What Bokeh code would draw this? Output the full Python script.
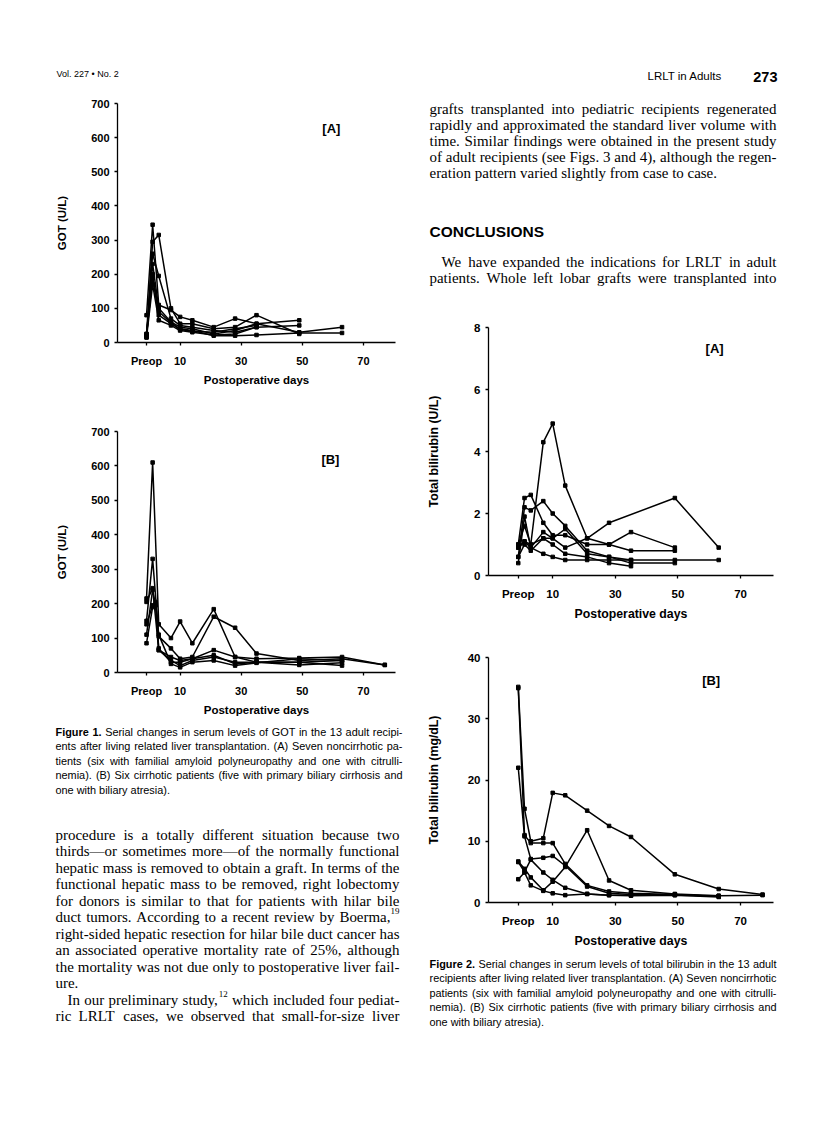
from bokeh.plotting import figure
from bokeh.layouts import row, column
from bokeh.models import Range1d, FixedTicker, ColumnDataSource, Label
from bokeh.embed import file_html
from bokeh.resources import INLINE
from bokeh.core.properties import value

# ------------------------------------------------------------------ data
X_TICKS = [-1, 10, 30, 50, 70]          # -1 = preoperative value
X_TICK_LABELS = {-1: "Preop"}

# Figure 1A - GOT (U/L), seven noncirrhotic patients
got_a_days = [-1, 1, 3, 7, 10, 14, 21, 28, 35, 49, 63]
got_a1 = [80, 345, 110, 95, 75, 65, 45, 70, 55, 65, None]
got_a2 = [25, 295, 315, 100, 55, 55, 40, 45, 80, 25, None]
got_a3 = [15, 260, 195, 70, 50, 45, 35, 30, 45, 50, None]
got_a4 = [20, 230, 100, 60, 45, 40, 25, 35, 55, 30, 45]
got_a5 = [25, 190, 80, 55, 40, 35, 20, 20, 22, 28, 28]
got_a6 = [15, 170, 65, 50, 35, 30, 22, 25, 45, None, None]
got_a7 = [20, 200, 90, 58, 38, 33, 30, 40, 50, None, None]

# Figure 1B - GOT (U/L), six cirrhotic patients
got_b_days = [-1, 1, 2, 3, 7, 10, 14, 21, 28, 35, 49, 63, 77]
got_b1 = [215, 610, None, 140, 100, 148, 85, 184, 45, 40, 42, 45, 22]
got_b2 = [150, 330, None, 105, 70, 40, 45, 162, 130, 55, 35, 40, 22]
got_b3 = [205, 245, None, 65, 45, 35, 40, 65, 45, 30, 30, 35, None]
got_b4 = [140, 195, 205, 65, 35, 20, 35, 45, 30, 30, 22, 28, None]
got_b5 = [85, 190, 200, 110, 25, 15, 30, 35, 20, 28, 40, 35, None]
got_b6 = [110, 240, 195, 70, 30, 30, 40, 50, 25, 30, 30, 20, None]

# Figure 2A - total bilirubin, seven noncirrhotic patients
bil_a_days = [-1, 1, 3, 7, 10, 14, 21, 28, 35, 49, 63]
bil_a1 = [0.9, 1.1, 1.0, 4.3, 4.9, 2.9, 1.2, 1.7, None, 2.5, 0.9]
bil_a2 = [1.0, 2.5, 2.6, 1.7, 1.3, 1.3, 1.0, 1.0, 1.4, 0.9, None]
bil_a3 = [0.6, 2.2, 2.1, 2.4, 2.0, 1.6, 0.8, 0.6, 0.5, None, None]
bil_a4 = [0.4, 1.9, 0.9, 1.4, 1.2, 0.9, 1.2, 1.0, 0.8, 0.8, None]
bil_a5 = [1.0, 1.6, 1.0, 1.2, 1.2, 1.5, 0.7, 0.6, 0.4, 0.4, None]
bil_a6 = [0.9, 1.1, 0.9, 0.7, 0.6, 0.5, 0.5, 0.5, 0.5, 0.5, 0.5]
bil_a7 = [0.6, 1.0, 0.8, 1.2, 1.0, 0.7, 0.6, 0.4, 0.3, None, None]

# Figure 2B - total bilirubin (mg/dL), six cirrhotic patients
bil_b_days = [-1, 1, 3, 7, 10, 14, 21, 28, 35, 49, 63, 77]
bil_b1 = [35.2, 15.3, 10.0, 10.5, 17.9, 17.5, 15.0, 12.5, 10.7, 4.6, 2.2, 1.3]
bil_b2 = [35.0, 11.0, 9.7, 9.7, 9.7, 6.3, 2.8, 1.8, 1.5, 1.3, 1.0, None]
bil_b3 = [22.0, 10.8, 7.1, 7.3, 7.6, 6.0, 2.6, 1.5, 1.3, 1.2, 1.1, 1.2]
bil_b4 = [6.7, 5.5, 4.1, 2.0, 3.4, 5.8, 11.8, 3.6, 2.0, 1.4, 1.1, None]
bil_b5 = [3.8, 4.9, 2.8, 1.9, 1.5, 1.2, 1.4, 1.2, 1.1, 1.2, 0.9, None]
bil_b6 = [6.6, 5.0, 7.0, 4.9, 3.7, 2.4, 1.4, 1.2, 1.2, 1.3, 1.0, None]

GOT_TICKS = [0, 100, 200, 300, 400, 500, 600, 700]
BIL_A_TICKS = [0, 2, 4, 6, 8]
BIL_B_TICKS = [0, 10, 20, 30, 40]

# ------------------------------------------------------------------ page text
HEAD_LEFT = "Vol. 227 \u2022 No. 2"
HEAD_RIGHT = "LRLT in Adults"
PAGE_NO = "273"
CONCLUSIONS = "CONCLUSIONS"

LEFT_BODY = [
    ("procedure is a totally different situation because two", True, False),
    ("thirds\u2014or sometimes more\u2014of the normally functional", True, False),
    ("hepatic mass is removed to obtain a graft. In terms of the", True, False),
    ("functional hepatic mass to be removed, right lobectomy", True, False),
    ("for donors is similar to that for patients with hilar bile", True, False),
    ("duct tumors. According to a recent review by Boerma,^19", True, False),
    ("right-sided hepatic resection for hilar bile duct cancer has", True, False),
    ("an associated operative mortality rate of 25%, although", True, False),
    ("the mortality was not due only to postoperative liver fail-", True, False),
    ("ure.", False, False),
    ("In our preliminary study,^12 which included four pediat-", True, True),
    ("ric LRLT cases, we observed that small-for-size liver", True, False),
]
RIGHT_BODY1 = [
    ("grafts transplanted into pediatric recipients regenerated", True, False),
    ("rapidly and approximated the standard liver volume with", True, False),
    ("time. Similar findings were obtained in the present study", True, False),
    ("of adult recipients (see Figs. 3 and 4), although the regen-", True, False),
    ("eration pattern varied slightly from case to case.", False, False),
]
RIGHT_BODY2 = [
    ("We have expanded the indications for LRLT in adult", True, True),
    ("patients. Whole left lobar grafts were transplanted into", True, False),
]
CAP1 = [
    ("*Figure *1. Serial changes in serum levels of GOT in the 13 adult recipi-", True, False),
    ("ents after living related liver transplantation. (A) Seven noncirrhotic pa-", True, False),
    ("tients (six with familial amyloid polyneuropathy and one with citrulli-", True, False),
    ("nemia). (B) Six cirrhotic patients (five with primary biliary cirrhosis and", True, False),
    ("one with biliary atresia).", False, False),
]
CAP2 = [
    ("*Figure *2. Serial changes in serum levels of total bilirubin in the 13 adult", True, False),
    ("recipients after living related liver transplantation. (A) Seven noncirrhotic", True, False),
    ("patients (six with familial amyloid polyneuropathy and one with citrulli-", True, False),
    ("nemia). (B) Six cirrhotic patients (five with primary biliary cirrhosis and", True, False),
    ("one with biliary atresia).", False, False),
]

SANS = "Liberation Sans"
SERIF = "Liberation Serif"

# ------------------------------------------------------------------ font metrics (1/1000 em)
def _tbl(pairs, default):
    d = {}
    for chars, w in pairs:
        for c in chars:
            d[c] = w
    d["_"] = default
    return d

TIMES = _tbl([(" ", 250), ("!", 333), ("%", 833), ("()", 333), (",.", 250), ("-", 333),
              ("/:;", 278), ("0123456789", 500), ("\u2014", 1000),
              ("A", 722), ("B", 667), ("C", 667), ("D", 722), ("E", 611), ("F", 556),
              ("G", 722), ("H", 722), ("I", 333), ("J", 389), ("K", 722), ("L", 611),
              ("M", 889), ("N", 722), ("O", 722), ("P", 556), ("Q", 722), ("R", 667),
              ("S", 556), ("T", 611), ("U", 722), ("V", 722), ("W", 944), ("X", 722),
              ("Y", 722), ("Z", 611),
              ("ac", 444), ("bdghknopquvxy", 500), ("e", 444), ("fr", 333), ("s", 389),
              ("ijlt", 278), ("m", 778), ("w", 722), ("z", 444)], 500)
ARIAL = _tbl([(" ", 278), ("()", 333), (",.:/", 278), ("-", 333), ("0123456789", 556),
              ("\u2022", 350),
              ("AB", 667), ("CDHNRU", 722), ("E", 667), ("F", 611), ("GOQ", 778), ("I", 278),
              ("J", 500), ("K", 667), ("L", 556), ("M", 833), ("P", 667), ("S", 667),
              ("T", 611), ("V", 667), ("W", 944), ("XY", 667), ("Z", 611),
              ("abdeghnopqu", 556), ("cksvxyz", 500), ("ft", 278), ("ijl", 222),
              ("m", 833), ("r", 333), ("w", 722)], 556)
ARIAL_B = _tbl([(" ", 278), (".", 278), ("0123456789", 556), ("F", 611),
                ("aces", 556), ("bdghnopqu", 611), ("ilj", 278), ("ft", 333), ("r", 389)], 600)


def tw(s, table):
    return sum(table.get(c, table["_"]) for c in s) / 1000.0


def natural_em(txt, table, btable):
    tot = 0.0
    words = txt.split(" ")
    for w in words:
        if w.startswith("*"):
            tot += tw(w[1:], btable)
        elif "^" in w:
            a, b = w.split("^")
            tot += tw(a, table) + 0.6 * tw(b, table)
        else:
            tot += tw(w, table)
    return tot + (len(words) - 1) * tw(" ", table)


def fit_size(blocks, table, btable, indent_em=1.0):
    ratios = []
    for lines, width in blocks:
        for txt, just, ind in lines:
            if just:
                ratios.append(width / (natural_em(txt, table, btable) + (indent_em if ind else 0)))
    return min(ratios)


def no_align(p):
    if "frame_align" in p.properties():
        p.frame_align = False


def words(p, d, font, size, style="normal", align="left"):
    p.text(x="x", y="y", text="text", source=ColumnDataSource(d),
           text_font=value(font), text_font_size=value(size),
           text_font_style=style, text_baseline="alphabetic",
           text_align=align, text_color="black")


def set_block(p, lines, x0, x1, y0, dy, fs, font, table, btable, indent):
    out = {k: {"x": [], "y": [], "text": []} for k in ("reg", "bold", "sup")}
    for i, (txt, just, ind) in enumerate(lines):
        y = y0 + i * dy
        items = []
        for w in txt.split(" "):
            bold = w.startswith("*")
            if bold:
                w = w[1:]
            sup = None
            if "^" in w:
                w, sup = w.split("^")
            wid = tw(w, btable if bold else table) * fs
            sw = tw(sup, table) * fs * 0.6 if sup else 0.0
            items.append((w, bold, sup, wid, sw))
        left = x0 + (indent if ind else 0)
        total = sum(a[3] + a[4] for a in items)
        n = len(items)
        gap = (x1 - left - total) / (n - 1) if (just and n > 1) else tw(" ", table) * fs
        x = left
        for (w, bold, sup, wid, sw) in items:
            k = "bold" if bold else "reg"
            out[k]["x"].append(x); out[k]["y"].append(y); out[k]["text"].append(w)
            if sup:
                out["sup"]["x"].append(x + wid); out["sup"]["y"].append(y - 0.38 * fs)
                out["sup"]["text"].append(sup)
            x += wid + sw + gap
    for k, d in out.items():
        if d["x"]:
            size = fs * 0.6 if k == "sup" else fs
            words(p, d, font, f"{size:.2f}px", "bold" if k == "bold" else "normal")


def put(p, x, y, txt, font, size, style="normal", align="left"):
    words(p, {"x": [x], "y": [y], "text": [txt]}, font, size, style, align)


# a text panel whose data coordinates equal page pixels
def text_fig(cx0, cy0, w, h):
    p = figure(width=w, height=h,
               x_range=Range1d(cx0, cx0 + w), y_range=Range1d(cy0 + h, cy0),
               output_backend="svg", toolbar_location=None, x_axis_type=None, y_axis_type=None,
               min_border_left=0, min_border_right=0, min_border_top=0, min_border_bottom=0)
    p.outline_line_color = None
    p.background_fill_color = "white"
    p.border_fill_color = "white"
    no_align(p)
    return p


def chart(w, h, bl, br, bt, bb, days, series, ymax, yticks, ylabel, panel, ppos,
          fs_tick, fs_lab, ystand, xstand, xtick_stand):
    p = figure(width=w, height=h, x_range=Range1d(-10.5, 80.5), y_range=Range1d(0, ymax),
               output_backend="svg", toolbar_location=None,
               min_border_left=bl, min_border_right=br, min_border_top=bt, min_border_bottom=bb)
    p.outline_line_color = None
    p.grid.visible = False
    p.background_fill_color = "white"
    p.border_fill_color = "white"
    no_align(p)
    for vals in series:
        xs = [d for d, v in zip(days, vals) if v is not None]
        ys = [v for v in vals if v is not None]
        p.line(xs, ys, line_color="black", line_width=1.5)
        p.scatter(xs, ys, marker="square", size=3.5, color="black")
    xa, ya = p.xaxis[0], p.yaxis[0]
    xa.ticker = FixedTicker(ticks=X_TICKS)
    xa.major_label_overrides = X_TICK_LABELS
    ya.ticker = FixedTicker(ticks=yticks)
    for ax in (xa, ya):
        ax.axis_line_color = "black"
        ax.axis_line_width = 1.3
        ax.major_tick_line_color = "black"
        ax.major_tick_line_width = 1.3
        ax.major_tick_in = 0
        ax.major_tick_out = 3
        ax.minor_tick_line_color = None
        ax.major_label_text_font = SANS
        ax.major_label_text_font_style = "bold"
        ax.major_label_text_font_size = fs_tick
        ax.major_label_text_color = "black"
        ax.axis_label_text_font = SANS
        ax.axis_label_text_font_style = "bold"
        ax.axis_label_text_font_size = fs_lab
        ax.axis_label_text_color = "black"
    xa.axis_label = "Postoperative days"
    ya.axis_label = ylabel
    ya.major_label_standoff = 5
    xa.major_label_standoff = xtick_stand
    ya.axis_label_standoff = ystand
    xa.axis_label_standoff = xstand
    p.add_layout(Label(x=ppos[0], y=ppos[1], text=panel, text_font=SANS,
                       text_font_style="bold", text_font_size="13px",
                       text_align="center", text_baseline="middle", text_color="black"))
    return p


# ------------------------------------------------------------------ layout (page pixels)
LX0, LX1 = 55, 399      # left text column
RX0, RX1 = 429, 776     # right text column
DY_BODY = 16.0
DY_LEFT = 16.5
DY_CAP = 14.5
LW, RW = 412, 396       # column widths
LBL, LBR = 117, 17      # left column chart frame borders
RBL, RBR = 76, 35       # right column chart frame borders

fs_body = fit_size([(LEFT_BODY, LX1 - LX0), (RIGHT_BODY1, RX1 - RX0), (RIGHT_BODY2, RX1 - RX0)],
                   TIMES, TIMES)
fs_cap = fit_size([(CAP1, LX1 + 3 - LX0), (CAP2, RX1 - RX0)], ARIAL, ARIAL_B)

# left column
L0 = text_fig(0, 0, LW, 85)
put(L0, 56, 73, HEAD_LEFT, SANS, "9px")

F1A = chart(LW, 315, LBL, LBR, 18, 58, got_a_days,
            [got_a1, got_a2, got_a3, got_a4, got_a5, got_a6, got_a7],
            700, GOT_TICKS, "GOT (U/L)", "[A]", (59.5, 627), "11px", "11.5px", 20, 4, 9)
F1B = chart(LW, 318, LBL, LBR, 31, 46, got_b_days,
            [got_b1, got_b2, got_b3, got_b4, got_b5, got_b6],
            700, GOT_TICKS, "GOT (U/L)", "[B]", (59.2, 620), "11px", "11.5px", 20, 4, 9)

LT = text_fig(0, 718, LW, 407)
set_block(LT, CAP1, LX0, LX1 + 3, 731, DY_CAP, fs_cap, SANS, ARIAL, ARIAL_B, 12)
set_block(LT, LEFT_BODY, LX0, LX1, 834, DY_LEFT, fs_body, SERIF, TIMES, TIMES, 12)

# right column
R0 = text_fig(LW, 0, RW, 300)
put(R0, 647, 75, HEAD_RIGHT, SANS, "11.5px")
put(R0, 777, 76, PAGE_NO, SANS, "14.5px", "bold", "right")
set_block(R0, RIGHT_BODY1, RX0, RX1, 108, DY_BODY, fs_body, SERIF, TIMES, TIMES, 12)
put(R0, RX0, 231, CONCLUSIONS, SANS, "15.5px", "bold")
set_block(R0, RIGHT_BODY2, RX0, RX1, 261, DY_BODY, fs_body, SERIF, TIMES, TIMES, 12)

F2A = chart(RW, 328, RBL, RBR, 27, 53, bil_a_days,
            [bil_a1, bil_a2, bil_a3, bil_a4, bil_a5, bil_a6, bil_a7],
            8, BIL_A_TICKS, "Total bilirubin (U/L)", "[A]", (61.7, 7.32), "11.5px", "12.3px", 30, 4, 9)
F2B = chart(RW, 322, RBL, RBR, 29, 45, bil_b_days,
            [bil_b1, bil_b2, bil_b3, bil_b4, bil_b5, bil_b6],
            40, BIL_B_TICKS, "Total bilirubin (mg/dL)", "[B]", (60.6, 36.2), "11.5px", "12.3px", 24, 4, 9)

RT = text_fig(LW, 950, RW, 175)
set_block(RT, CAP2, RX0, RX1, 963, DY_CAP, fs_cap, SANS, ARIAL, ARIAL_B, 12)

page = row(column(L0, F1A, F1B, LT, spacing=0), column(R0, F2A, F2B, RT, spacing=0), spacing=0)

open("out.html", "w").write(file_html(page, INLINE, title="LRLT in Adults"))
